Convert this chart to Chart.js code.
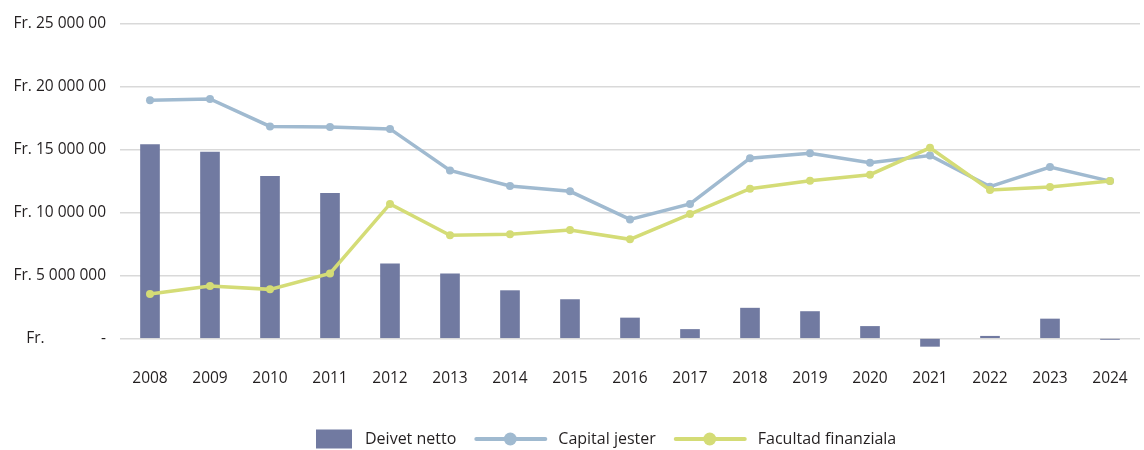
<!DOCTYPE html>
<html>
<head>
<meta charset="utf-8">
<script src="https://cdn.jsdelivr.net/npm/chart.js@4.4.1/dist/chart.umd.min.js"></script>
<style>
    html, body { margin: 0; padding: 0; background: #fff; }
    #wrap { width: 1144px; height: 450px; position: relative; }
</style>
</head>
<body>
<div id="wrap"><canvas id="finChart"></canvas></div>
<script>
const years = ['2008', '2009', '2010', '2011', '2012', '2013', '2014', '2015', '2016',
               '2017', '2018', '2019', '2020', '2021', '2022', '2023', '2024'];
const deivetNetto = [15380000, 14780000, 12850000, 11510000, 5910000, 5130000, 3790000, 3080000, 1620000,
                     710000, 2400000, 2130000, 950000, -630000, 170000, 1540000, -80000];
const capitalJester = [18900000, 19000000, 16820000, 16770000, 16620000, 13330000, 12090000, 11670000, 9440000,
                       10670000, 14300000, 14690000, 13930000, 14510000, 12040000, 13590000, 12480000];
const facultadFinanziala = [3520000, 4150000, 3890000, 5150000, 10670000, 8180000, 8260000, 8600000, 7860000,
                            9860000, 11880000, 12510000, 12990000, 15120000, 11770000, 12010000, 12480000];
const yTickValues = [0, 5000000, 10000000, 15000000, 20000000, 25000000];
const yTickLabels = ['Fr.              -', 'Fr. 5 000 000', 'Fr. 10 000 00', 'Fr. 15 000 00', 'Fr. 20 000 00', 'Fr. 25 000 00'];

const FONT = '"Open Sans", "Noto Sans", sans-serif';
const TEXT_COLOR = '#231f20';

// legend drawn by hand: box for bars, line with a dot for the lines
const bottomLegend = {
    id: 'bottomLegend',
    afterDraw(chart) {
        const ctx = chart.ctx;
        const y = chart.height - 11;
        let x = 316;
        ctx.save();
        ctx.font = '16px ' + FONT;
        ctx.textBaseline = 'middle';
        chart.data.datasets.forEach(ds => {
            if (ds.type === 'bar') {
                ctx.fillStyle = ds.backgroundColor;
                ctx.fillRect(x, y - 9.5, 36, 19);
                x += 36 + 13;
            } else {
                ctx.strokeStyle = ds.borderColor;
                ctx.lineWidth = 4;
                ctx.lineCap = 'round';
                ctx.beginPath();
                ctx.moveTo(x + 2, y);
                ctx.lineTo(x + 71, y);
                ctx.stroke();
                ctx.fillStyle = ds.borderColor;
                ctx.beginPath();
                ctx.arc(x + 36, y, 6.5, 0, Math.PI * 2);
                ctx.fill();
                x += 73 + 11;
            }
            ctx.fillStyle = TEXT_COLOR;
            ctx.fillText(ds.label, x, y);
            x += ctx.measureText(ds.label).width + 18;
        });
        ctx.restore();
    }
};

const ctx = document.getElementById('finChart').getContext('2d');
const finChart = new Chart(ctx, {
    data: {
        labels: years,
        datasets: [{
            type: 'bar',
            label: 'Deivet netto',
            data: deivetNetto,
            backgroundColor: '#717aa1',
            barThickness: 19,
            clip: false,
            order: 2
        }, {
            type: 'line',
            label: 'Capital jester',
            data: capitalJester,
            borderColor: '#a0bad0',
            backgroundColor: '#a0bad0',
            borderWidth: 3.5,
            pointRadius: 4,
            pointBorderWidth: 0,
            tension: 0,
            order: 1
        }, {
            type: 'line',
            label: 'Facultad finanziala',
            data: facultadFinanziala,
            borderColor: '#d4dc76',
            backgroundColor: '#d4dc76',
            borderWidth: 3.5,
            pointRadius: 4,
            pointBorderWidth: 0,
            tension: 0,
            order: 0
        }]
    },
    options: {
        responsive: true,
        maintainAspectRatio: false,
        animation: false,
        layout: { padding: { top: 10, right: 0, bottom: 31, left: 0 } },
        scales: {
            x: {
                grid: { display: false, drawTicks: false },
                border: { display: false },
                afterFit: (scale) => { scale.paddingLeft = 0; scale.paddingRight = 0; },
                ticks: {
                    color: TEXT_COLOR,
                    font: { family: FONT, size: 15.5 },
                    padding: 31,
                    maxRotation: 0,
                    autoSkip: false
                }
            },
            y: {
                min: 0,
                max: 25000000,
                afterFit: (scale) => { scale.width = 120; },
                grid: { color: '#d9d9d9', lineWidth: 1.5, drawTicks: false },
                border: { display: false },
                ticks: {
                    stepSize: 5000000,
                    color: TEXT_COLOR,
                    font: { family: FONT, size: 15.5 },
                    padding: 14,
                    callback: (value) => yTickLabels[yTickValues.indexOf(value)]
                }
            }
        },
        plugins: {
            legend: { display: false },
            tooltip: { enabled: false }
        }
    },
    plugins: [bottomLegend]
});
</script>
</body>
</html>
